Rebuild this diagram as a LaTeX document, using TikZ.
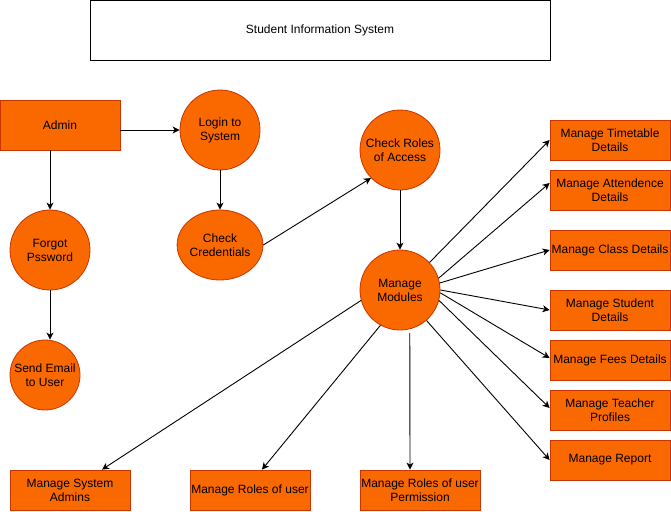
\documentclass[tikz,border=0pt]{standalone}
\usepackage{fontspec}
\setmainfont{Liberation Sans}
\usetikzlibrary{arrows.meta,shapes.geometric}
\definecolor{ofill}{HTML}{FA6800}
\definecolor{ostroke}{HTML}{C73500}
\begin{document}
\begin{tikzpicture}[x=1pt,y=-1pt,
  every node/.style={font=\fontsize{12}{14}\selectfont, align=center, inner sep=0pt},
  obox/.style={rectangle, draw=ostroke, fill=ofill, minimum width=120pt, minimum height=40pt, line width=0.8pt},
  ocirc/.style={circle, draw=ostroke, fill=ofill, minimum size=80pt, line width=0.8pt},
  oell/.style={ellipse, draw=ostroke, fill=ofill, minimum width=80pt, minimum height=70pt, line width=0.8pt},
  conn/.style={draw=black, line width=0.9pt, -{Stealth[length=7pt,width=7pt,inset=2pt]}}
]
\useasboundingbox (0,0) rectangle (671,511);
\node[draw=black, line width=0.9pt, minimum width=460pt, minimum height=60pt] (title) at (320,30) {Student Information System};

\node[obox, minimum height=50pt] (admin) at (60,125) {Admin};
\node[ocirc] (login) at (220,130) {Login to\\System};
\node[ocirc] (forgot) at (50,250) {Forgot\\Pssword};
\node[oell] (cred) at (220,245) {Check\\Credentials};
\node[ocirc, minimum size=70pt] (email) at (45,375) {Send Email\\to User};
\node[ocirc] (roles) at (400,150) {Check Roles\\of Access};
\node[ocirc] (mm) at (400,290) {Manage\\Modules};

\node[obox] (tt) at (610,140) {Manage Timetable\\Details};
\node[obox] (att) at (610,190) {Manage Attendence\\Details};
\node[obox] (cls) at (610,250) {Manage Class Details};
\node[obox] (stu) at (610,310) {Manage Student\\Details};
\node[obox] (fee) at (610,360) {Manage Fees Details};
\node[obox] (tea) at (610,410) {Manage Teacher\\Profiles};
\node[obox] (rep) at (610,460) {Manage Report};

\node[obox] (sys) at (70,490) {Manage System\\Admins};
\node[obox] (rou) at (250,490) {Manage Roles of user};
\node[obox] (per) at (420,490) {Manage Roles of user\\Permission};

\draw[conn] ([yshift=-5pt]admin.east) -- (login.west);
\draw[conn] ([xshift=-10pt]admin.south) -- (forgot.north);
\draw[conn] (forgot.south) -- ([xshift=5pt]email.north);
\draw[conn] (login.south) -- (cred.north);
\draw[conn] (cred.east) -- (roles.224);
\draw[conn] (roles.south) -- (mm.north);

\draw[conn] (mm.43) -- (tt.west);
\draw[conn] (mm.17) -- ([yshift=7pt]att.west);
\draw[conn] (mm.10) -- (cls.west);
\draw[conn] (mm.0) -- (stu.west);
\draw[conn] (mm.-4) -- ([yshift=2pt]fee.west);
\draw[conn] (mm.-15) -- ([yshift=2pt]tea.west);
\draw[conn] (mm.-49) -- (rep.west);

\draw[conn] (mm.195) -- ([xshift=32pt]sys.north);
\draw[conn] (mm.241) -- ([xshift=12pt]rou.north);
\draw[conn] ([yshift=-4pt]mm.-76) -- ([xshift=-10pt]per.north);
\end{tikzpicture}
\end{document}
